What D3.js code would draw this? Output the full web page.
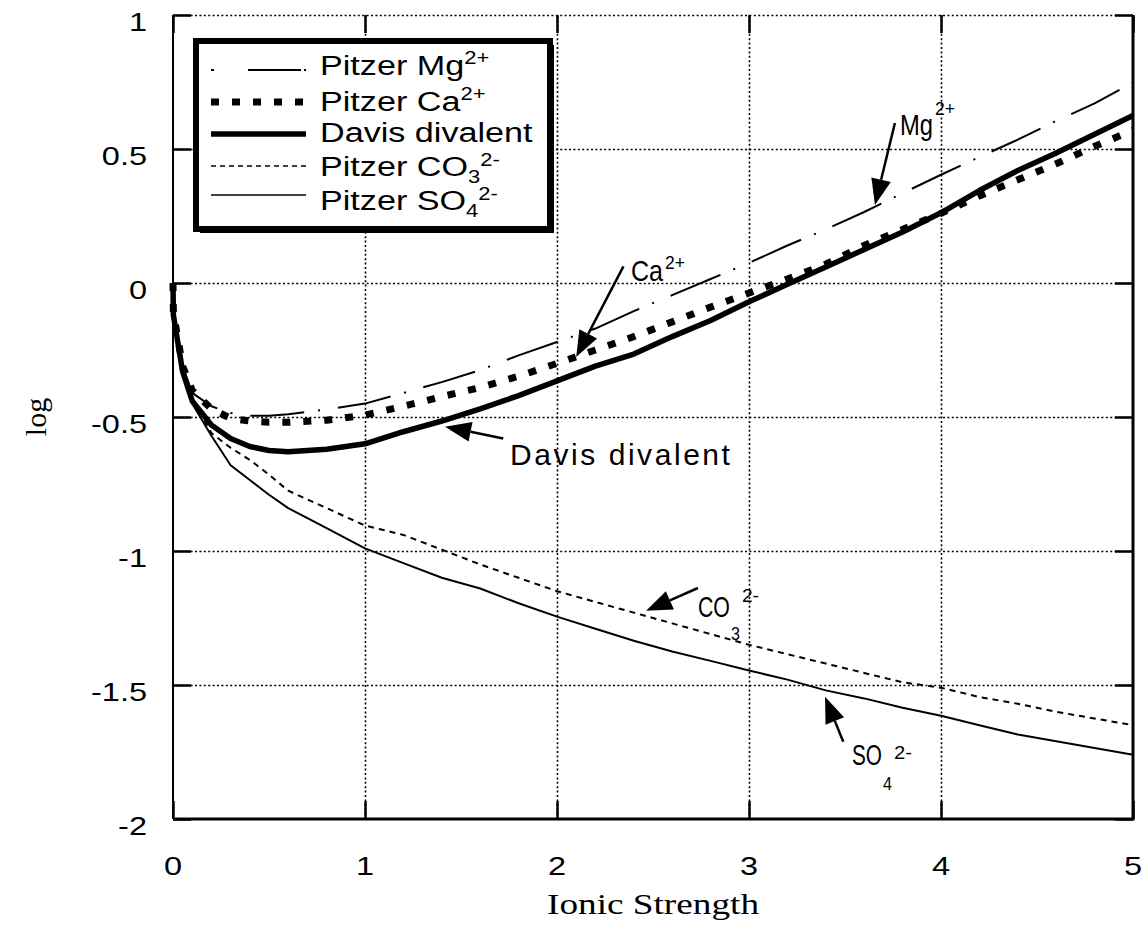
<!DOCTYPE html>
<html>
<head>
<meta charset="utf-8">
<script src="https://cdn.jsdelivr.net/npm/d3@7"></script>
<style>
  body { margin: 0; background: #fff; }
  svg { display: block; }
</style>
</head>
<body>
<svg id="chart" width="1143" height="929"></svg>
<script>
// ionic strength sample points (shared by every curve)
const ionic = [0, 0.002, 0.05, 0.1, 0.2, 0.3, 0.4, 0.5, 0.6, 0.8, 1.0, 1.2, 1.4, 1.6, 1.8, 2.0,
  2.2, 2.4, 2.6, 2.8, 3.0, 3.2, 3.4, 3.6, 3.8, 4.0, 4.2, 4.4, 4.6, 4.8, 5.0]

// log gamma
const mgLog = [0, -0.11, -0.31, -0.41, -0.46, -0.485, -0.495, -0.495, -0.49, -0.472, -0.45, -0.41, -0.37, -0.325, -0.27, -0.22,
  -0.17, -0.105, -0.045, 0.015, 0.075, 0.14, 0.2, 0.265, 0.335, 0.404, 0.47, 0.535, 0.605, 0.67, 0.748]
const caLog = [0, -0.11, -0.31, -0.4, -0.47, -0.505, -0.515, -0.52, -0.52, -0.512, -0.493, -0.46, -0.424, -0.39, -0.348, -0.3,
  -0.25, -0.2, -0.145, -0.09, -0.037, 0.015, 0.07, 0.14, 0.2, 0.26, 0.325, 0.385, 0.445, 0.51, 0.57]
const davisLog = [0, -0.12, -0.33, -0.44, -0.53, -0.58, -0.61, -0.625, -0.63, -0.62, -0.6, -0.555, -0.515, -0.47, -0.42, -0.365,
  -0.31, -0.265, -0.2, -0.14, -0.07, -0.005, 0.06, 0.125, 0.19, 0.262, 0.345, 0.42, 0.485, 0.555, 0.625]
const co3Log = [0, -0.11, -0.32, -0.43, -0.56, -0.615, -0.66, -0.715, -0.775, -0.84, -0.905, -0.94, -0.995, -1.05, -1.1, -1.15,
  -1.19, -1.23, -1.27, -1.31, -1.35, -1.385, -1.42, -1.455, -1.49, -1.51, -1.545, -1.57, -1.6, -1.625, -1.65]
const so4Log = [0, -0.11, -0.33, -0.45, -0.57, -0.68, -0.735, -0.79, -0.84, -0.915, -0.99, -1.045, -1.1, -1.14, -1.195, -1.245,
  -1.29, -1.335, -1.375, -1.41, -1.446, -1.48, -1.52, -1.55, -1.585, -1.615, -1.65, -1.685, -1.71, -1.735, -1.76]

const xTicks = [0, 1, 2, 3, 4, 5]
const yTicks = [-2, -1.5, -1, -0.5, 0, 0.5, 1]
const xTickLabels = ['0', '1', '2', '3', '4', '5']
const yTickLabels = ['-2', '-1.5', '-1', '-0.5', '0', '0.5', '1']

const width = 1143,
  height = 929,
  plotLeft = 173, plotRight = 1133, plotTop = 15, plotBottom = 819;

const sans = "'Liberation Sans', Arial, sans-serif"
const narrow = "'Liberation Sans Narrow', 'Liberation Sans', Arial, sans-serif"
const serif = "'Liberation Serif', 'Times New Roman', serif"
const stretch = 1.25

const x = d3.scaleLinear().domain([0, 5]).range([plotLeft, plotRight])
const y = d3.scaleLinear().domain([-2, 1]).range([plotBottom, plotTop])

const svg = d3.select('#chart')

// dotted grid
svg.append('g')
  .attr('transform', `translate(0,${plotBottom})`)
  .call(d3.axisBottom(x).tickValues([1, 2, 3, 4]).tickSize(-(plotBottom - plotTop)).tickFormat(''))
  .call(g => g.select('.domain').remove())
  .selectAll('line').attr('stroke', '#000').attr('stroke-width', 1.6).attr('stroke-dasharray', '2,2.4')

svg.append('g')
  .attr('transform', `translate(${plotLeft},0)`)
  .call(d3.axisLeft(y).tickValues([-1.5, -1, -0.5, 0, 0.5, 1]).tickSize(-(plotRight - plotLeft)).tickFormat(''))
  .call(g => g.select('.domain').remove())
  .selectAll('line').attr('stroke', '#000').attr('stroke-width', 1.6).attr('stroke-dasharray', '2,2.4')

// inside ticks on all four sides
function ticks(axis, tx, ty) {
  svg.append('g')
    .attr('transform', `translate(${tx},${ty})`)
    .call(axis.tickSize(-18).tickFormat(''))
    .call(g => g.select('.domain').remove())
    .selectAll('line').attr('stroke', '#000').attr('stroke-width', 2.5)
}
ticks(d3.axisBottom(x).tickValues(xTicks), 0, plotBottom)
ticks(d3.axisTop(x).tickValues(xTicks), 0, plotTop)
ticks(d3.axisLeft(y).tickValues(yTicks), plotLeft, 0)
ticks(d3.axisRight(y).tickValues(yTicks), plotRight, 0)

// frame
svg.append('line').attr('x1', plotLeft).attr('x2', plotRight + 1.5).attr('y1', plotBottom).attr('y2', plotBottom)
  .attr('stroke', '#000').attr('stroke-width', 3)
svg.append('line').attr('x1', plotRight).attr('x2', plotRight).attr('y1', plotTop).attr('y2', plotBottom)
  .attr('stroke', '#000').attr('stroke-width', 3)
svg.append('line').attr('x1', plotLeft).attr('x2', plotLeft).attr('y1', plotTop).attr('y2', plotBottom)
  .attr('stroke', '#000').attr('stroke-width', 2)

// stretched text helper (the original fonts are drawn wide)
function wideText(parent, px, py, str, size, anchor, family, sx) {
  return parent.append('g')
    .attr('transform', `translate(${px},${py}) scale(${sx || stretch},1)`)
    .append('text')
    .attr('font-family', family || sans)
    .attr('font-size', size)
    .attr('text-anchor', anchor || 'start')
    .attr('fill', '#000')
    .text(str)
}

xTicks.forEach((t, i) => wideText(svg, x(t), 875, xTickLabels[i], 26, 'middle'))
yTicks.forEach((t, i) => wideText(svg, 147, y(t) + 16, yTickLabels[i], 26, 'end'))

// axis titles
svg.append('text')
  .attr('x', x(2.5)).attr('y', 914)
  .attr('font-family', serif).attr('font-size', 29)
  .attr('text-anchor', 'middle')
  .attr('textLength', 212).attr('lengthAdjust', 'spacingAndGlyphs')
  .text('Ionic Strength')

svg.append('text')
  .attr('transform', `translate(46,${y(-0.5)}) rotate(-90)`)
  .attr('font-family', serif).attr('font-size', 30)
  .attr('text-anchor', 'middle')
  .text('log')

// curves
const series = [
  { key: 'so4', values: so4Log, width: 2, dash: null },
  { key: 'co3', values: co3Log, width: 2, dash: '6,5' },
  { key: 'mg', values: mgLog, width: 2, dash: '54,14,2,18' },
  { key: 'ca', values: caLog, width: 7, dash: '8,13' },
  { key: 'davis', values: davisLog, width: 5.5, dash: null }
]

const line = d3.line()
  .x(d => x(d[0]))
  .y(d => y(d[1]))

series.forEach(s => {
  svg.append('path')
    .datum(ionic.map((v, i) => [v, s.values[i]]))
    .attr('d', line)
    .attr('fill', 'none')
    .attr('stroke', '#000')
    .attr('stroke-width', s.width)
    .attr('stroke-linejoin', 'round')
    .attr('stroke-dasharray', s.dash)
})

// annotations (arrow tail, arrow tip in data units; label pieces offset in px)
const notes = [
  { tail: [3.76, 0.597], tip: [3.656, 0.291], at: [3.786, 0.552],
    parts: [{ t: 'Mg', dx: 0, dy: 0, size: 30, w: 33 }, { t: '2+', dx: 35, dy: -20, size: 19, w: 20 }] },
  { tail: [2.346, 0.062], tip: [2.1, -0.276], at: [2.385, 0.007],
    parts: [{ t: 'Ca', dx: 0, dy: 0, size: 30, w: 32 }, { t: '2+', dx: 34, dy: -12, size: 19, w: 20 }] },
  { tail: [1.72, -0.58], tip: [1.417, -0.536], at: [1.755, -0.679],
    parts: [{ t: 'Davis divalent', dx: 0, dy: 0, size: 30, w: 220, spacing: true }] },
  { tail: [2.734, -1.138], tip: [2.464, -1.223], at: [2.734, -1.246],
    parts: [{ t: 'CO', dx: 0, dy: 0, size: 30, w: 32 }, { t: '3', dx: 33, dy: 23, size: 19, w: 9 },
      { t: '2-', dx: 44, dy: -15, size: 19, w: 17 }] },
  { tail: [3.491, -1.712], tip: [3.396, -1.544], at: [3.536, -1.799],
    parts: [{ t: 'SO', dx: 0, dy: 0, size: 30, w: 30 }, { t: '4', dx: 31, dy: 25, size: 19, w: 9 },
      { t: '2-', dx: 42, dy: -6, size: 19, w: 18 }] }
]

const headLen = 26, headHalf = 10

notes.forEach(n => {
  const tx = x(n.tail[0]), ty = y(n.tail[1])
  const px = x(n.tip[0]), py = y(n.tip[1])
  const ang = Math.atan2(py - ty, px - tx)
  const bx = px - headLen * Math.cos(ang), by = py - headLen * Math.sin(ang)
  svg.append('line')
    .attr('x1', tx).attr('y1', ty).attr('x2', bx).attr('y2', by)
    .attr('stroke', '#000').attr('stroke-width', 2.5)
  const nx = -Math.sin(ang) * headHalf, ny = Math.cos(ang) * headHalf
  svg.append('path')
    .attr('d', `M${px},${py}L${bx + nx},${by + ny}L${bx - nx},${by - ny}Z`)
    .attr('fill', '#000')

  const ax = x(n.at[0]), ay = y(n.at[1])
  n.parts.forEach(p => {
    const g = svg.append('g').attr('transform', `translate(${ax + p.dx},${ay + p.dy})`)
    const t = g.append('text')
      .attr('font-family', narrow).attr('font-size', p.size)
      .text(p.t)
    if (p.spacing) {
      t.attr('textLength', p.w).attr('lengthAdjust', 'spacing')
    } else {
      // squeeze the glyphs to the width seen in the picture
      const len = t.node().getComputedTextLength()
      g.attr('transform', `translate(${ax + p.dx},${ay + p.dy}) scale(${p.w / len},1)`)
    }
  })
})

// legend
const legend = svg.append('g')
legend.append('rect').attr('x', 200).attr('y', 45).attr('width', 354).attr('height', 188).attr('fill', '#000')
legend.append('rect').attr('x', 196).attr('y', 41).attr('width', 354).attr('height', 188)
  .attr('fill', '#fff').attr('stroke', '#000').attr('stroke-width', 6)

const legendRows = [
  { lineY: 70, textY: 75, width: 2, dash: '3,34,53', main: 'Pitzer Mg', sub: null, sup: '2+' },
  { lineY: 102, textY: 111, width: 7, dash: '8,13', main: 'Pitzer Ca', sub: null, sup: '2+' },
  { lineY: 134, textY: 142, width: 5.5, dash: null, main: 'Davis divalent', sub: null, sup: null },
  { lineY: 166, textY: 176, width: 1.6, dash: '5,4', main: 'Pitzer CO', sub: '3', sup: '2-' },
  { lineY: 195, textY: 210, width: 1.6, dash: null, main: 'Pitzer SO', sub: '4', sup: '2-' }
]

legendRows.forEach(r => {
  legend.append('line')
    .attr('x1', 211).attr('x2', 306).attr('y1', r.lineY).attr('y2', r.lineY)
    .attr('stroke', '#000').attr('stroke-width', r.width)
    .attr('stroke-dasharray', r.dash)
  const t = wideText(legend, 320, r.textY, r.main, 28, 'start', sans, 1.22)
  if (r.sub) t.append('tspan').attr('font-size', 18).attr('dy', 7).text(r.sub)
  if (r.sup) t.append('tspan').attr('font-size', 18).attr('dy', r.sub ? -17 : -11).text(r.sup)
})
</script>
</body>
</html>
